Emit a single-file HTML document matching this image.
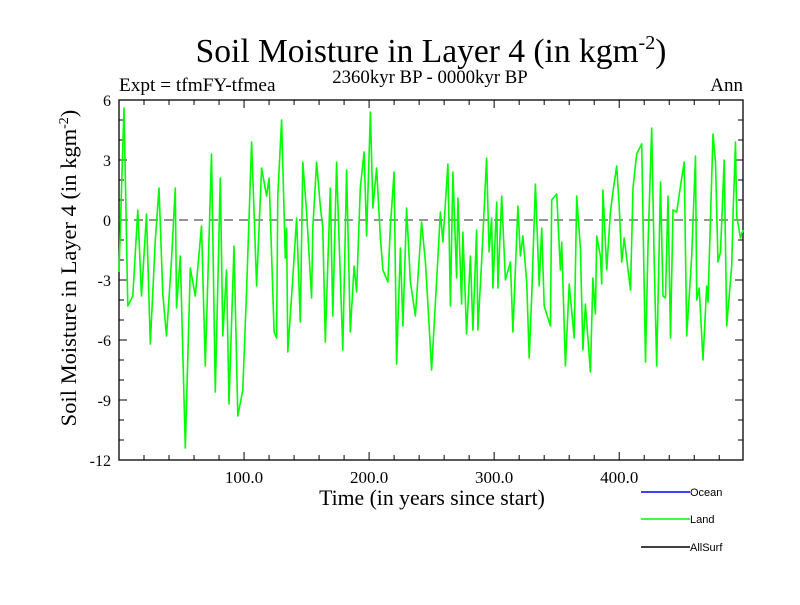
<!DOCTYPE html>
<html><head><meta charset="utf-8"><style>
body{margin:0;background:#fff}
svg text{font-family:"Liberation Serif",serif}
</style></head><body>
<svg id="chart" width="800" height="600" xmlns="http://www.w3.org/2000/svg">
<rect width="800" height="600" fill="#fff"/>
<text x="431" y="62" font-size="33.5" text-anchor="middle">Soil Moisture in Layer 4 (in kgm<tspan dy="-13" font-size="20">-2</tspan><tspan dy="13">)</tspan></text>
<text x="430" y="83" font-size="18.8" text-anchor="middle">2360kyr BP - 0000kyr BP</text>
<text x="119" y="91" font-size="19.3">Expt = tfmFY-tfmea</text>
<text x="743" y="91" font-size="19" text-anchor="end">Ann</text>
<text transform="translate(76,268) rotate(-90)" font-size="22.5" text-anchor="middle">Soil Moisture in Layer 4 (in kgm<tspan dy="-8" font-size="14">-2</tspan><tspan dy="8">)</tspan></text>
<text x="432" y="505" font-size="21.7" text-anchor="middle">Time (in years since start)</text>
<g id="axes"></g>
<g id="series"></g>
<g>
<line x1="641" y1="492" x2="690" y2="492" stroke="#0000ff" stroke-width="1.5"/>
<text x="690" y="496" font-size="11" style="font-family:'Liberation Sans',sans-serif">Ocean</text>
<line x1="641" y1="519" x2="690" y2="519" stroke="#00ff00" stroke-width="1.5"/>
<text x="690" y="523" font-size="11" style="font-family:'Liberation Sans',sans-serif">Land</text>
<line x1="641" y1="547" x2="690" y2="547" stroke="#000" stroke-width="1.5"/>
<text x="690" y="551" font-size="11" style="font-family:'Liberation Sans',sans-serif">AllSurf</text>
</g>
</svg>
<script>
const years=[0,4,7,11,15,18,22,25,29,32,35,38,42,45,46,49,53,57,61,66,69,74,77,81,83,86,88,92,95,99,102,106,110,114,118,120,124,126,127,130,133,134,135,139,142,145,147,150,154,155,158,161,163,165,169,171,174,175,179,182,185,188,190,193,196,198,201,203,206,209,211,215,217,220,222,225,227,230,233,237,242,245,247,250,255,257,259,263,265,267,270,271,274,275,278,281,283,286,287,290,294,296,298,299,302,303,306,309,313,315,319,321,323,326,328,330,333,336,338,340,345,346,350,353,354,357,360,364,366,369,371,373,377,379,381,382,385,386,387,390,393,395,398,400,402,404,409,411,414,418,421,423,426,428,430,433,435,437,439,441,443,446,449,452,454,458,461,462,464,467,470,471,475,477,479,481,484,486,488,490,491,493,494,497,499];
const values=[-2.6,5.6,-4.3,-3.8,0.5,-3.8,0.3,-6.2,-1,1.6,-3.7,-5.8,-2,1.6,-4.4,-1.8,-11.4,-2.4,-3.8,-0.3,-7.3,3.3,-8.6,2.1,-5.8,-2.5,-9.2,-1.3,-9.8,-8.5,-3.5,3.9,-3.3,2.6,1.2,2.1,-5.6,-5.9,1.2,5.0,-1.9,-0.4,-6.6,-2.9,0.1,-5.1,2.9,0.4,-3.9,-0.4,2.9,0.7,-0.4,-6.1,1.6,-4.8,2.9,0.9,-6.5,2.5,-5.6,-2.3,-3.6,1.6,3.4,-0.8,5.4,0.6,2.6,-0.9,-2.5,-3.1,-0.3,2.4,-7.2,-1.4,-5.3,0.6,-3.1,-4.8,-0.1,-2.1,-4.2,-7.5,-1.9,0.4,-1.1,2.8,-4.3,2.4,-2.9,1.1,-4.2,-0.6,-5.7,-1.8,-5.5,-0.5,-5.5,-2.1,3.1,-1.6,0.1,-3.4,0.9,-3.4,1.2,-3.0,-2.1,-5.6,0.7,-1.8,-0.8,-3.1,-6.9,-3.8,1.8,-3.3,-0.4,-4.3,-5.3,1.0,1.3,-2.5,-1.1,-7.3,-3.2,-5.9,1.2,-1.4,-6.5,-4.2,-7.6,-2.9,-4.7,-0.8,-1.8,-3.2,1.5,-2.5,0.4,1.4,2.7,0.7,-2.1,-0.9,-3.5,1.6,3.3,3.8,-7.1,-1.3,4.6,-2.1,-7.3,1.9,-3.8,-3.9,1.2,-5.9,0.5,0.4,1.7,2.9,-5.8,-1.8,3.2,-4.0,-3.4,-7.0,-3.3,-4.1,4.3,2.9,-2.1,-1.6,3.0,-5.3,-3.8,-2.3,0.2,3.9,0.2,-0.9,-0.5];
const xTicks=[100,200,300,400];
const xTickLabels=["100.0","200.0","300.0","400.0"];
const yTicks=[6,3,0,-3,-6,-9,-12];

const L=119,R=743,T=100,B=460,X0=0,X1=499,Y0=-12,Y1=6;
const sx=v=>L+(v-X0)/(X1-X0)*(R-L);
const sy=v=>B-(v-Y0)/(Y1-Y0)*(B-T);
const NS="http://www.w3.org/2000/svg";
const ax=document.getElementById('axes');
function mk(tag,attrs,parent){const e=document.createElementNS(NS,tag);for(const k in attrs)e.setAttribute(k,attrs[k]);parent.appendChild(e);return e;}
const frame=mk('rect',{x:L,y:T,width:R-L,height:B-T,fill:'none',stroke:'#000','stroke-width':1.3},ax);


for(let v=20;v<X1;v+=20){const major=v%100===0;const len=major?8:5;
 const t1=mk('line',{x1:sx(v),x2:sx(v),y1:B,y2:B-len,stroke:'#000'},ax);
 
 
 const t2=mk('line',{x1:sx(v),x2:sx(v),y1:T,y2:T+len,stroke:'#000'},ax);
 
 }
xTicks.forEach((v,i)=>{const t=mk('text',{x:sx(v),y:B+23,'font-size':17,'text-anchor':'middle'},ax);t.textContent=xTickLabels[i];
 
 });
for(let v=Y0+1;v<Y1;v++){const major=v%3===0;const len=major?8:5;
 const t1=mk('line',{x1:L,x2:L+len,y1:sy(v),y2:sy(v),stroke:'#000'},ax);
 
 
 const t2=mk('line',{x1:R,x2:R-len,y1:sy(v),y2:sy(v),stroke:'#000'},ax);
 
 }
yTicks.forEach(v=>{const t=mk('text',{x:L-8,y:sy(v)+6,'font-size':16,'text-anchor':'end'},ax);t.textContent=String(v);
 
 });
const zl=mk('line',{x1:L,x2:R,y1:sy(0),y2:sy(0),stroke:'#555','stroke-width':1.3,'stroke-dasharray':'9,6'},ax);


const sg=document.getElementById('series');
const d=years.map((y,i)=>(i?'L':'M')+sx(y).toFixed(1)+','+sy(values[i]).toFixed(1)).join('');
const p=mk('path',{d:d,fill:'none',stroke:'#00ff00','stroke-width':1.6,'stroke-linejoin':'round'},sg);


</script>
</body></html>
